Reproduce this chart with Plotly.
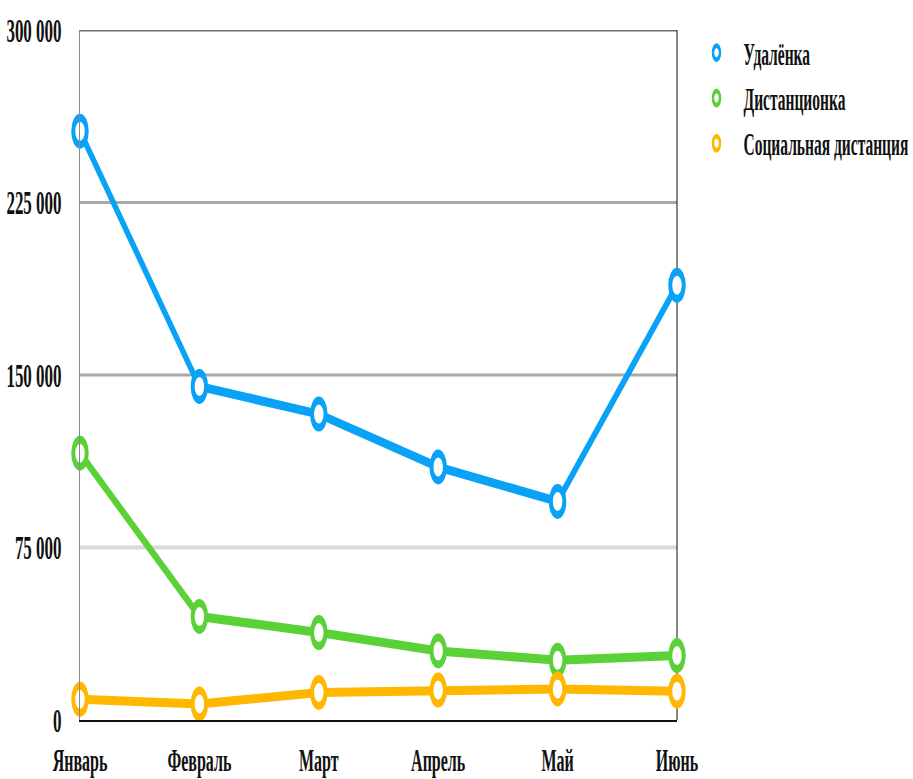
import plotly.graph_objects as go

# Monthly counts for three search phrases
months = ["Январь", "Февраль", "Март", "Апрель", "Май", "Июнь"]
series_names = ["Удалёнка", "Дистанционка", "Социальная дистанция"]
udalenka = [256000, 145000, 133000, 110000, 95000, 189000]
distantsionka = [116000, 45000, 38000, 30000, 26000, 28000]
social_distance = [9000, 7000, 12000, 13000, 13500, 12500]
series_values = [udalenka, distantsionka, social_distance]
series_colors = ["#0aa2f7", "#5bd138", "#ffb700"]

y_ticks = [0, 75000, 150000, 225000, 300000]
y_tick_labels = ["0", "75 000", "150 000", "225 000", "300 000"]
grid_colors = [None, "#d9d9d9", "#aaaaaa", "#aaaaaa", "#6f6f6f"]

X_SCALE = 0.5          # horizontal compression applied to the rendered page
PAGE_W, PAGE_H = 913, 779
FIG_W = PAGE_W / X_SCALE

font_family = "Liberation Serif, Times New Roman, serif"

fig = go.Figure()

for name, vals, col in zip(series_names, series_values, series_colors):
    fig.add_trace(go.Scatter(
        x=months, y=vals, name=name, mode="lines+markers",
        line=dict(color=col, width=9),
        marker=dict(symbol="circle", size=27, color="white",
                    line=dict(color=col, width=8)),
        cliponaxis=False, showlegend=False,
    ))

# legend entries show only the ring marker
for name, col in zip(series_names, series_colors):
    fig.add_trace(go.Scatter(
        x=[None], y=[None], name=name, mode="markers", legendgroup=name,
        marker=dict(symbol="circle", size=14, color="white",
                    line=dict(color=col, width=5)),
        showlegend=True,
    ))

shapes = []
for yv, gc in zip(y_ticks, grid_colors):
    if gc is None:
        continue
    shapes.append(dict(type="line", xref="paper", yref="y", x0=0, x1=1,
                       y0=yv, y1=yv, layer="below",
                       line=dict(color=gc, width=4 if yv == 75000 else 3)))
# right border of the plotting area
shapes.append(dict(type="line", xref="paper", yref="y", x0=1, x1=1,
                   y0=y_ticks[0], y1=y_ticks[-1], layer="below",
                   line=dict(color="#111111", width=2)))

fig.update_layout(
    width=FIG_W, height=PAGE_H,
    margin=dict(l=160, r=FIG_W - 1354, t=30, b=59, autoexpand=False),
    paper_bgcolor="white", plot_bgcolor="white",
    font=dict(family=font_family, size=32, color="#111111", weight="bold"),
    shapes=shapes,
    legend=dict(x=1379 / FIG_W, xref="container", xanchor="left",
                y=1 - 26 / PAGE_H, yref="container", yanchor="top",
                font=dict(size=31, family=font_family, weight="bold"),
                itemwidth=98, tracegroupgap=2, bgcolor="rgba(0,0,0,0)"),
    xaxis=dict(type="category", range=[0, 5], showgrid=False,
               showline=True, linecolor="#111111", linewidth=2,
               ticks="", ticklabelstandoff=11, tickfont=dict(size=32),
               zeroline=False, automargin=False),
    yaxis=dict(range=[0, 300000], tickvals=y_ticks, ticktext=y_tick_labels,
               showgrid=False, zeroline=False,
               showline=True, linecolor="#8a8a8a", linewidth=2,
               ticks="", ticklabelstandoff=28, tickfont=dict(size=34),
               automargin=False),
)

post_script = """
var gd = document.getElementById('{plot_id}');
document.documentElement.style.overflow = 'hidden';
document.body.style.margin = '0';
document.body.style.overflow = 'hidden';
gd.style.transformOrigin = '0 0';
gd.style.transform = 'scaleX(%s)';
""" % X_SCALE

fig.write_html("out.html", post_script=post_script)
